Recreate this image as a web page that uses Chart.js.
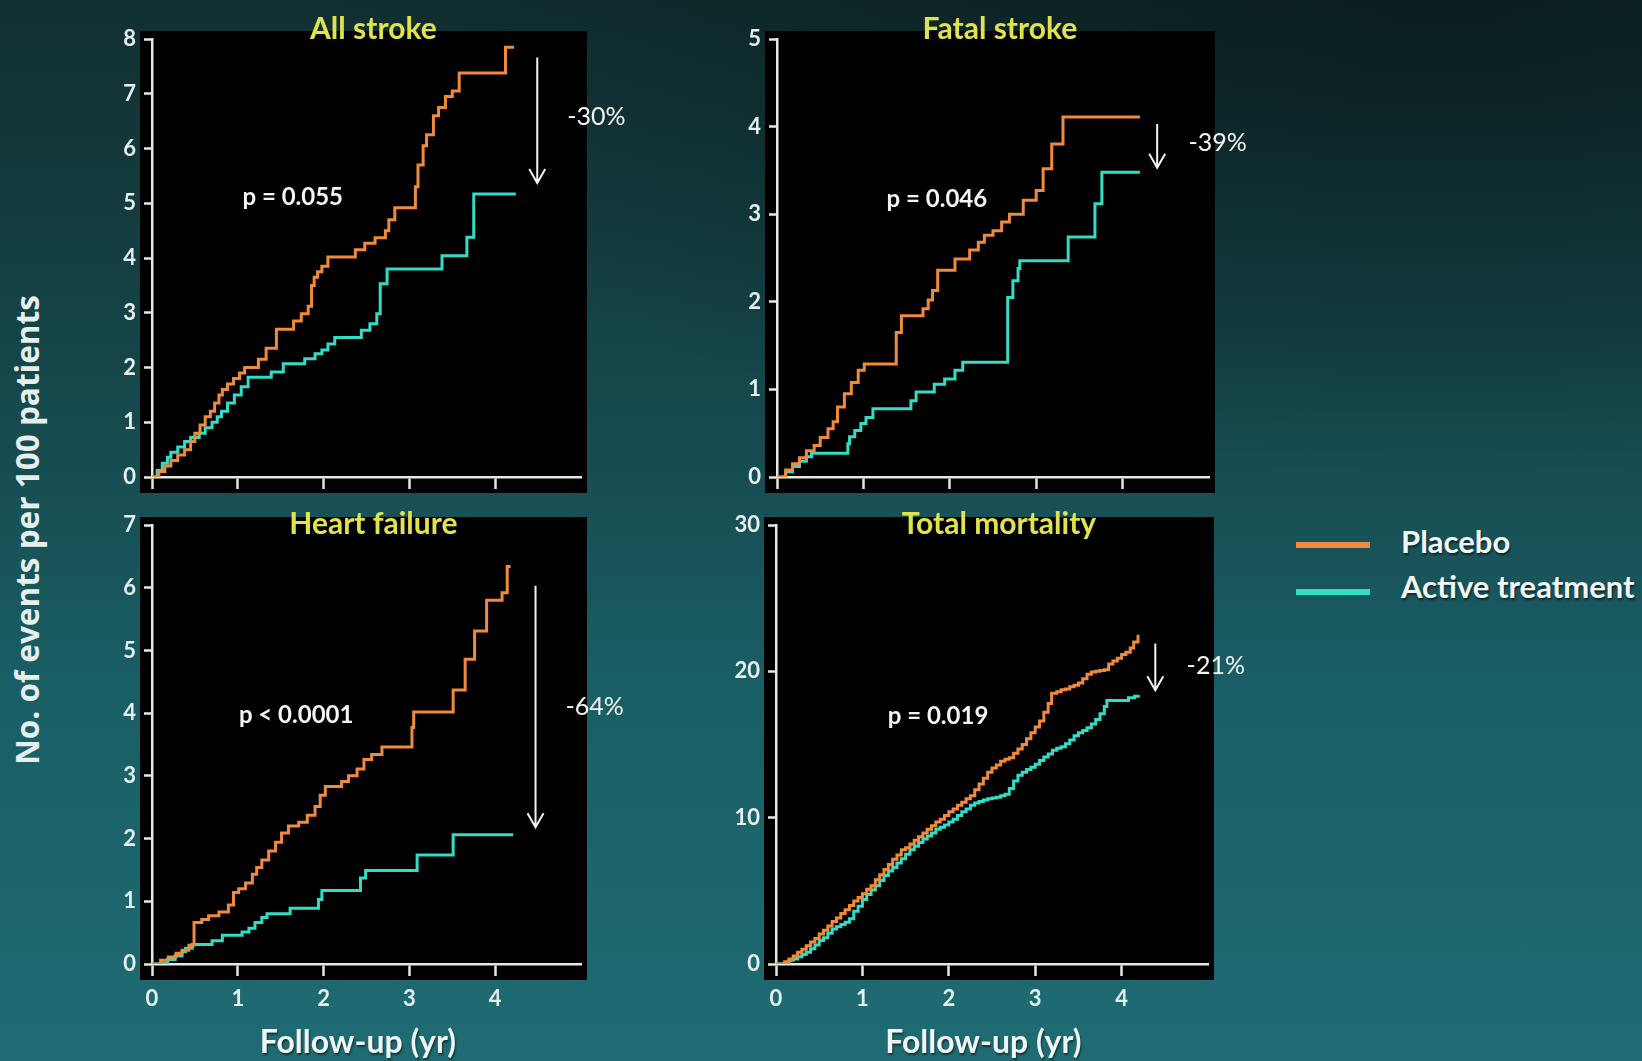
<!DOCTYPE html>
<html>
<head>
<meta charset="utf-8">
<script src="https://cdn.jsdelivr.net/npm/chart.js@4.4.1/dist/chart.umd.min.js"></script>
<style>
  html, body { margin: 0; padding: 0; }
  body {
    width: 1642px; height: 1061px; overflow: hidden; position: relative;
    background:
      radial-gradient(ellipse 70% 45% at 88% 0%, rgba(4,14,16,0.55), rgba(4,14,16,0) 100%),
      linear-gradient(to bottom, #112f30 0%, #15464a 35%, #1a5e65 65%, #1f6c74 100%);
    font-family: Lato, "Open Sans", sans-serif;
  }
  canvas { position: absolute; }
  #ytitle {
    position: absolute; left: -273px; top: 512px; width: 600px; height: 36px;
    line-height: 36px; text-align: center; transform: rotate(-90deg);
    font-family: "Open Sans", sans-serif; font-weight: 700; font-size: 31.5px;
    color: #e6efed; white-space: nowrap;
  }
  .swatch { position: absolute; left: 1296px; width: 74px; height: 6px; }
  .lgtext {
    position: absolute; left: 1401px; font-weight: 700; font-size: 31px;
    color: #f2f6f4; white-space: nowrap; line-height: 36px;
    text-shadow: 1px 2px 2px rgba(0,0,0,0.55);
  }
</style>
</head>
<body>
<div id="ytitle">No. of events per 100 patients</div>
<div class="swatch" style="top:542px;background:#f08a3c"></div>
<div class="swatch" style="top:589px;background:#33dcc6"></div>
<div class="lgtext" style="top:523px">Placebo</div>
<div class="lgtext" style="top:568px">Active treatment</div>

<canvas id="c1"></canvas>
<canvas id="c2"></canvas>
<canvas id="c3"></canvas>
<canvas id="c4"></canvas>

<script>
// Follow-up (years) / events per 100 patients, cumulative step curves
const xTickYears = [0, 1, 2, 3, 4];
const seriesNames = ['Placebo', 'Active treatment'];

const allStrokePlacebo = [[0,0],[0.08,0.1],[0.15,0.2],[0.22,0.3],[0.3,0.4],[0.38,0.5],[0.45,0.65],[0.5,0.8],[0.56,0.95],[0.62,1.1],[0.68,1.2],[0.73,1.35],[0.78,1.5],[0.82,1.6],[0.88,1.7],[0.95,1.8],[1.02,1.9],[1.08,2.0],[1.24,2.15],[1.33,2.35],[1.45,2.7],[1.65,2.85],[1.74,2.98],[1.82,3.12],[1.86,3.5],[1.89,3.65],[1.93,3.75],[1.98,3.85],[2.05,4.02],[2.37,4.15],[2.48,4.27],[2.6,4.37],[2.72,4.5],[2.76,4.7],[2.83,4.92],[3.07,5.3],[3.1,5.7],[3.16,6.05],[3.2,6.25],[3.28,6.6],[3.34,6.75],[3.42,6.95],[3.5,7.05],[3.58,7.38],[4.12,7.85],[4.22,7.85]];
const allStrokeActive = [[0,0],[0.06,0.12],[0.12,0.25],[0.18,0.36],[0.22,0.45],[0.3,0.55],[0.38,0.65],[0.45,0.72],[0.55,0.8],[0.62,0.9],[0.7,1.0],[0.76,1.1],[0.81,1.2],[0.88,1.35],[0.96,1.5],[1.04,1.65],[1.12,1.82],[1.39,1.92],[1.53,2.07],[1.78,2.16],[1.9,2.25],[1.98,2.32],[2.05,2.43],[2.13,2.55],[2.44,2.68],[2.54,2.8],[2.62,2.98],[2.66,3.53],[2.74,3.8],[3.38,4.04],[3.67,4.38],[3.75,5.17],[4.24,5.17]];

const fatalStrokePlacebo = [[0,0],[0.1,0.08],[0.18,0.15],[0.26,0.22],[0.34,0.3],[0.43,0.36],[0.5,0.45],[0.59,0.55],[0.65,0.63],[0.7,0.8],[0.78,0.95],[0.86,1.08],[0.94,1.22],[1.01,1.29],[1.38,1.65],[1.44,1.84],[1.69,1.92],[1.75,2.02],[1.8,2.13],[1.86,2.36],[2.06,2.49],[2.23,2.59],[2.33,2.68],[2.4,2.76],[2.5,2.81],[2.6,2.91],[2.69,3.0],[2.85,3.16],[3.0,3.27],[3.08,3.52],[3.18,3.8],[3.31,4.11],[4.2,4.11]];
const fatalStrokeActive = [[0,0],[0.1,0.06],[0.18,0.12],[0.26,0.18],[0.34,0.23],[0.4,0.27],[0.82,0.38],[0.84,0.46],[0.9,0.53],[0.97,0.61],[1.03,0.68],[1.11,0.78],[1.55,0.87],[1.61,0.97],[1.82,1.06],[1.94,1.12],[2.06,1.22],[2.15,1.31],[2.67,2.05],[2.73,2.24],[2.79,2.38],[2.81,2.47],[3.37,2.74],[3.68,3.12],[3.76,3.48],[4.2,3.48]];

const heartFailurePlacebo = [[0,0],[0.1,0.06],[0.19,0.11],[0.28,0.17],[0.35,0.22],[0.43,0.3],[0.49,0.66],[0.58,0.71],[0.66,0.77],[0.78,0.83],[0.89,0.94],[0.95,1.14],[1.01,1.2],[1.09,1.29],[1.17,1.43],[1.22,1.54],[1.28,1.66],[1.36,1.8],[1.44,1.94],[1.51,2.09],[1.59,2.2],[1.71,2.26],[1.81,2.37],[1.9,2.51],[1.96,2.69],[2.02,2.83],[2.21,2.91],[2.29,3.0],[2.39,3.11],[2.47,3.26],[2.56,3.34],[2.68,3.46],[3.03,3.77],[3.05,4.02],[3.51,4.37],[3.65,4.86],[3.76,5.31],[3.9,5.8],[4.08,5.92],[4.14,6.34],[4.18,6.34]];
const heartFailureActive = [[0,0],[0.1,0.01],[0.18,0.07],[0.27,0.13],[0.35,0.2],[0.39,0.25],[0.47,0.31],[0.7,0.37],[0.82,0.46],[1.05,0.51],[1.13,0.57],[1.2,0.66],[1.28,0.74],[1.34,0.8],[1.61,0.89],[1.94,1.03],[1.98,1.17],[2.43,1.37],[2.49,1.49],[3.09,1.74],[3.51,2.06],[4.21,2.06]];

const mortalityPlacebo = [[0,0],[0.05,0],[0.1,0.15],[0.15,0.35],[0.2,0.55],[0.25,0.8],[0.3,1.0],[0.35,1.25],[0.4,1.5],[0.45,1.75],[0.5,2.05],[0.55,2.3],[0.6,2.6],[0.65,2.9],[0.7,3.15],[0.75,3.45],[0.8,3.7],[0.85,4.0],[0.9,4.3],[0.95,4.55],[1.0,4.8],[1.05,5.1],[1.1,5.35],[1.15,5.75],[1.2,6.1],[1.25,6.45],[1.3,6.8],[1.35,7.15],[1.4,7.45],[1.45,7.8],[1.5,7.95],[1.55,8.2],[1.6,8.45],[1.65,8.7],[1.7,8.95],[1.75,9.2],[1.8,9.45],[1.85,9.7],[1.9,9.9],[1.95,10.15],[2.0,10.4],[2.05,10.6],[2.1,10.85],[2.15,11.05],[2.2,11.3],[2.25,11.5],[2.3,11.9],[2.35,12.3],[2.4,12.7],[2.45,13.1],[2.5,13.4],[2.55,13.6],[2.6,13.85],[2.65,14.0],[2.7,14.1],[2.75,14.4],[2.8,14.7],[2.85,15.0],[2.9,15.4],[2.95,15.8],[3.0,16.2],[3.05,16.6],[3.1,17.2],[3.15,17.8],[3.19,18.5],[3.25,18.6],[3.3,18.75],[3.35,18.8],[3.4,18.95],[3.45,19.05],[3.5,19.2],[3.55,19.5],[3.6,19.8],[3.65,19.95],[3.7,20.0],[3.75,20.05],[3.8,20.1],[3.85,20.5],[3.9,20.7],[3.95,20.9],[4.0,21.15],[4.05,21.3],[4.1,21.6],[4.14,22.0],[4.19,22.5]];
const mortalityActive = [[0,0],[0.05,0],[0.1,0.1],[0.15,0.25],[0.2,0.35],[0.25,0.5],[0.3,0.65],[0.35,0.8],[0.4,1.05],[0.45,1.3],[0.5,1.6],[0.55,1.8],[0.6,2.1],[0.65,2.4],[0.7,2.55],[0.75,2.7],[0.8,2.85],[0.85,3.1],[0.9,3.6],[0.95,3.95],[1.0,4.4],[1.05,4.75],[1.1,5.05],[1.15,5.35],[1.2,5.7],[1.25,6.05],[1.3,6.35],[1.35,6.6],[1.4,6.9],[1.45,7.2],[1.5,7.5],[1.55,7.8],[1.6,8.05],[1.65,8.3],[1.7,8.55],[1.75,8.75],[1.8,8.95],[1.85,9.2],[1.9,9.35],[1.95,9.5],[2.0,9.7],[2.05,9.9],[2.1,10.15],[2.15,10.4],[2.2,10.6],[2.25,10.85],[2.3,11.0],[2.35,11.1],[2.4,11.2],[2.45,11.3],[2.5,11.35],[2.55,11.4],[2.6,11.5],[2.65,11.6],[2.7,12.0],[2.75,12.5],[2.8,12.9],[2.85,13.1],[2.9,13.3],[2.95,13.45],[3.0,13.65],[3.05,13.9],[3.1,14.15],[3.15,14.35],[3.2,14.6],[3.25,14.75],[3.3,14.85],[3.35,15.05],[3.4,15.3],[3.45,15.6],[3.5,15.8],[3.55,15.95],[3.6,16.15],[3.65,16.4],[3.7,16.7],[3.75,17.1],[3.8,17.6],[3.83,18.0],[4.08,18.2],[4.15,18.3],[4.21,18.3]];

const panelTitles = ['All stroke', 'Fatal stroke', 'Heart failure', 'Total mortality'];
const panelYMax = [8, 5, 7, 30];
const panelYStep = [1, 1, 1, 10];
const pValueTexts = ['p = 0.055', 'p = 0.046', 'p < 0.0001', 'p = 0.019'];
const reductionTexts = ['-30%', '-39%', '-64%', '-21%'];
// [year, value] anchors for the annotations of each panel
const pValueAt = [[1.64, 5.11], [1.85, 3.17], [1.68, 3.97], [1.875, 16.9]];
const reductionAt = [[5.18, 6.58], [5.10, 3.81], [5.16, 4.10], [5.09, 20.4]];
// arrow: [year, from value, to value]
const reductionArrows = [[4.49, 7.66, 5.37], [4.40, 4.03, 3.53], [4.47, 6.03, 2.18], [4.39, 21.9, 18.7]];

const placeboColor = '#f08a3c';
const activeColor = '#33dcc6';
const axisColor = '#e8e8e2';
const tickLabelColor = '#e6f1ee';
const titleColor = '#e0e24e';

// plot area box of each panel on the page
const panelBoxes = [
  { left: 152, top: 39,  right: 581,  bottom: 477, xLabels: false, titleDy: -10 },
  { left: 777, top: 39,  right: 1209, bottom: 477, xLabels: false, titleDy: -10 },
  { left: 152, top: 525, right: 581,  bottom: 964, xLabels: true,  titleDy: -1 },
  { left: 776, top: 525, right: 1208, bottom: 964, xLabels: true,  titleDy: -1 }
];
const PAD_LEFT = 60, PAD_TOP = 42, PAD_RIGHT = 72, PAD_BOTTOM = 97;

const panelDecor = {
  id: 'panelDecor',
  beforeDraw(chart) {
    const { ctx, chartArea: a } = chart;
    ctx.save();
    ctx.fillStyle = '#000';
    ctx.fillRect(a.left - 12, a.top - 8, a.right - a.left + 18, a.bottom - a.top + 24);
    ctx.restore();
  },
  afterDraw(chart, args, opts) {
    const { ctx, chartArea: a, scales: { x, y } } = chart;
    ctx.save();
    ctx.textAlign = 'center';
    ctx.textBaseline = 'middle';
    // panel title
    ctx.fillStyle = titleColor;
    ctx.font = '700 30px Lato';
    ctx.fillText(opts.title, x.getPixelForValue(2.58), a.top + opts.titleDy);
    // p value
    ctx.fillStyle = '#f4f4f0';
    ctx.font = '700 24px Lato';
    ctx.fillText(opts.pText, x.getPixelForValue(opts.pAt[0]), y.getPixelForValue(opts.pAt[1]));
    // relative reduction
    ctx.font = '400 25px Lato';
    ctx.fillText(opts.pct, x.getPixelForValue(opts.pctAt[0]), y.getPixelForValue(opts.pctAt[1]));
    // arrow
    const ax = x.getPixelForValue(opts.arrow[0]);
    const y1 = y.getPixelForValue(opts.arrow[1]);
    const y2 = y.getPixelForValue(opts.arrow[2]);
    ctx.strokeStyle = '#f4f4f0';
    ctx.lineWidth = 2;
    ctx.beginPath();
    ctx.moveTo(ax, y1); ctx.lineTo(ax, y2);
    ctx.moveTo(ax - 8, y2 - 14); ctx.lineTo(ax, y2); ctx.lineTo(ax + 8, y2 - 14);
    ctx.stroke();
    // x axis title
    if (opts.xTitle) {
      ctx.fillStyle = '#eef5f2';
      ctx.font = '700 32px Lato';
      ctx.shadowColor = 'rgba(0,0,0,0.5)';
      ctx.shadowOffsetX = 1; ctx.shadowOffsetY = 2; ctx.shadowBlur = 2;
      ctx.fillText('Follow-up (yr)', x.getPixelForValue(2.4), a.bottom + 79);
    }
    ctx.restore();
  }
};

const panelSeries = [
  [allStrokePlacebo, allStrokeActive],
  [fatalStrokePlacebo, fatalStrokeActive],
  [heartFailurePlacebo, heartFailureActive],
  [mortalityPlacebo, mortalityActive]
];

const toPoints = arr => arr.map(([t, v]) => ({ x: t, y: v }));

panelBoxes.forEach((box, i) => {
  const cv = document.getElementById('c' + (i + 1));
  const w = box.right - box.left + PAD_LEFT + PAD_RIGHT;
  const h = box.bottom - box.top + PAD_TOP + PAD_BOTTOM;
  cv.width = w; cv.height = h;
  cv.style.width = w + 'px'; cv.style.height = h + 'px';
  cv.style.left = (box.left - PAD_LEFT) + 'px';
  cv.style.top = (box.top - PAD_TOP) + 'px';

  new Chart(cv, {
    type: 'line',
    data: {
      datasets: [
        { label: seriesNames[0], data: toPoints(panelSeries[i][0]), borderColor: placeboColor,
          borderWidth: 3, stepped: true, pointRadius: 0, fill: false },
        { label: seriesNames[1], data: toPoints(panelSeries[i][1]), borderColor: activeColor,
          borderWidth: 3, stepped: true, pointRadius: 0, fill: false }
      ]
    },
    options: {
      responsive: false,
      animation: false,
      layout: { padding: { left: 0, top: PAD_TOP, right: PAD_RIGHT, bottom: 0 } },
      plugins: {
        legend: { display: false },
        tooltip: { enabled: false },
        panelDecor: {
          title: panelTitles[i], titleDy: box.titleDy, pText: pValueTexts[i], pAt: pValueAt[i],
          pct: reductionTexts[i], pctAt: reductionAt[i], arrow: reductionArrows[i],
          xTitle: box.xLabels
        }
      },
      scales: {
        x: {
          type: 'linear', min: 0, max: 5,
          afterBuildTicks: s => { s.ticks = xTickYears.map(v => ({ value: v })); },
          afterFit: s => { s.height = PAD_BOTTOM; },
          ticks: { display: box.xLabels, color: tickLabelColor, font: { family: 'Lato', weight: '700', size: 22 },
                   padding: 10, maxRotation: 0, autoSkip: false },
          grid: { drawOnChartArea: false, drawTicks: true, tickLength: 12, tickColor: axisColor, tickWidth: 2.5 },
          border: { display: true, color: axisColor, width: 2.5 }
        },
        y: {
          min: 0, max: panelYMax[i],
          afterFit: s => { s.width = PAD_LEFT; },
          ticks: { stepSize: panelYStep[i], color: tickLabelColor, font: { family: 'Lato', weight: '700', size: 22 },
                   padding: 8 },
          grid: { drawOnChartArea: false, drawTicks: true, tickLength: 8, tickColor: axisColor, tickWidth: 2.5 },
          border: { display: true, color: axisColor, width: 2.5 }
        }
      }
    },
    plugins: [panelDecor]
  });
});
</script>
</body>
</html>
